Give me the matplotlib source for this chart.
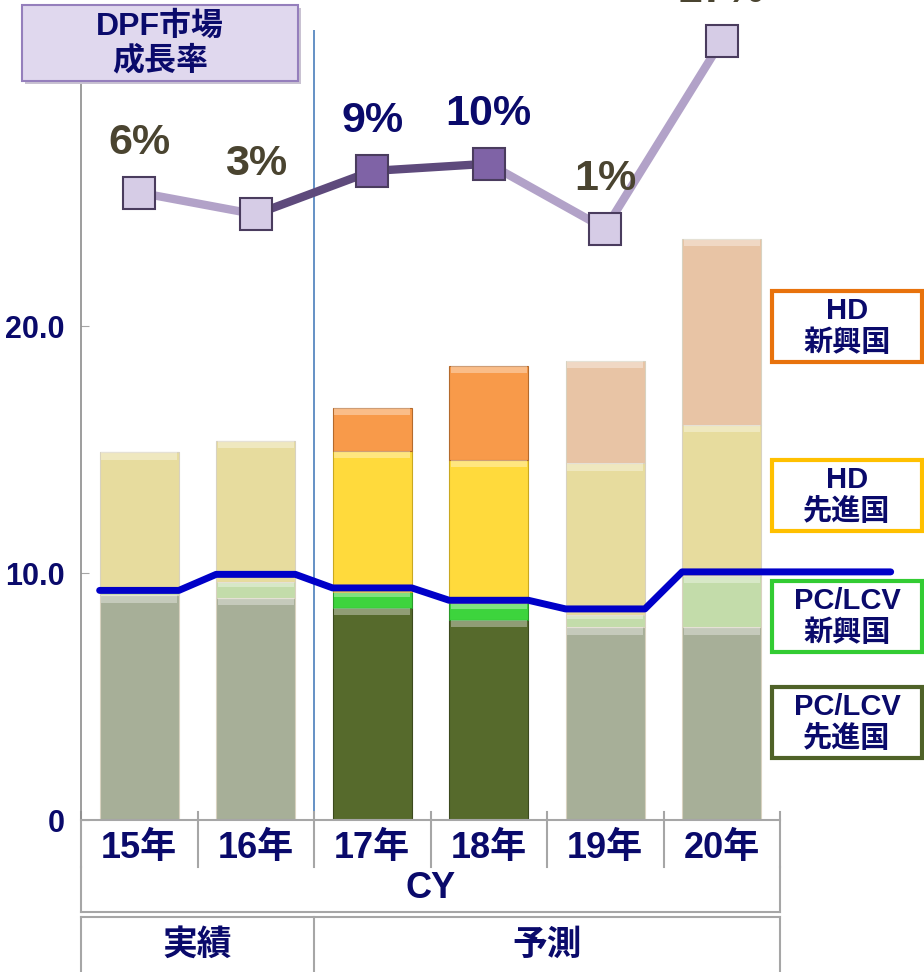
import matplotlib
matplotlib.use("Agg")
import matplotlib.pyplot as plt
import numpy as np
from matplotlib.patches import Rectangle
from matplotlib.lines import Line2D
from matplotlib.transforms import blended_transform_factory

plt.rcParams["font.family"] = ["Liberation Sans", "Noto Sans CJK JP"]
plt.rcParams["font.weight"] = "bold"

# data
years = ["15年", "16年", "17年", "18年", "19年", "20年"]
pc_adv = [9.1, 9.0, 8.6, 8.1, 7.8, 7.8]      # PC/LCV 先進国
pc_emg = [0.2, 0.65, 0.65, 0.7, 0.5, 2.1]    # PC/LCV 新興国
hd_adv = [5.6, 5.7, 5.7, 5.8, 6.15, 6.1]     # HD 先進国
hd_emg = [0.0, 0.0, 1.75, 3.8, 4.15, 7.55]   # HD 新興国
blue_line = [9.3, 9.95, 9.4, 8.9, 8.55, 10.05]
growth = [6, 3, 9, 10, 1, 27]
growth_labels = ["6%", "3%", "9%", "10%", "1%", "27%"]
highlight = [False, False, True, True, False, False]

W, H = 924, 972
NAVY = "#0a0a6b"
GREY = "#a6a6a6"


def fx(px):
    return px / W


def fy(py):
    return 1 - py / H


fig = plt.figure(figsize=(W / 100, H / 100), dpi=100)
ax = fig.add_axes([fx(81), fy(820), 699 / W, 790 / H])

x = np.arange(len(years))
bw = 0.68

strong = {"pc_adv": "#566a2c", "pc_emg": "#3dd43d", "hd_adv": "#ffda3c", "hd_emg": "#f89a4a"}
faded = {"pc_adv": "#a7af98", "pc_emg": "#c3dcaa", "hd_adv": "#e7dc9e", "hd_emg": "#e8c4a5"}
edge_strong = {"pc_adv": "#3c4a1e", "pc_emg": "#2a9a2a", "hd_adv": "#c9a820", "hd_emg": "#b46a2c"}

bottom = np.zeros(len(years))
for key, vals in [("pc_adv", pc_adv), ("pc_emg", pc_emg), ("hd_adv", hd_adv), ("hd_emg", hd_emg)]:
    vals = np.array(vals)
    cols = [strong[key] if h else faded[key] for h in highlight]
    ecs = [edge_strong[key] if h else "#d8d2c0" for h in highlight]
    ax.bar(x, vals, bw, bottom=bottom, color=cols, edgecolor=ecs, linewidth=0.8, zorder=2)
    # light bevel strip at the top of every segment
    hl = np.minimum(0.3, vals * 0.35)
    ax.bar(x, hl, bw * 0.96, bottom=bottom + vals - hl, color="white", alpha=0.35,
           linewidth=0, zorder=2.1)
    bottom += vals

# blue line: flat over each bar, sloped between bars, last one runs past the axis
lx, ly = [], []
for i, v in enumerate(blue_line):
    right = i + bw / 2 if i < len(years) - 1 else i + 1.45
    lx += [i - bw / 2, right]
    ly += [v, v]
ax.plot(lx, ly, color="#0000c8", lw=5, solid_joinstyle="round", solid_capstyle="round",
        zorder=3, clip_on=False)

ax.axvline(1.5, color="#4a7ebb", lw=1.2, zorder=1.5)

ax.set_xlim(-0.5, 5.5)
ax.set_ylim(0, 32)
ax.set_yticks([0, 10, 20], ["0", "10.0", "20.0"])
ax.set_xticks(x, years)
ax.tick_params(axis="y", direction="in", length=6, color=GREY, pad=12, labelsize=22,
               labelcolor=NAVY)
ax.tick_params(axis="x", length=0, pad=8, labelsize=26, labelcolor=NAVY)
for s in ["top", "right"]:
    ax.spines[s].set_visible(False)
ax.spines["left"].set_color("#8c8c8c")
ax.spines["bottom"].set_color(GREY)
ax.spines["left"].set_linewidth(1.2)
ax.spines["bottom"].set_linewidth(1.5)

# category table below the axis
tb = blended_transform_factory(ax.transData, fig.transFigure)
for b in np.arange(-0.5, 6, 1.0):
    ax.add_line(Line2D([b, b], [fy(812), fy(867)], transform=tb, color=GREY, lw=1.5, clip_on=False))
for b in [-0.5, 5.5]:
    ax.add_line(Line2D([b, b], [fy(867), fy(912)], transform=tb, color=GREY, lw=1.5, clip_on=False))
ax.add_line(Line2D([-0.5, 5.5], [fy(912), fy(912)], transform=tb, color=GREY, lw=1.5, clip_on=False))
ax.add_line(Line2D([-0.5, 5.5], [fy(917), fy(917)], transform=tb, color=GREY, lw=1.5, clip_on=False))
for b in [-0.5, 1.5, 5.5]:
    ax.add_line(Line2D([b, b], [fy(917), fy(975)], transform=tb, color=GREY, lw=1.5, clip_on=False))
ax.text(2.5, fy(888), "CY", transform=tb, ha="center", va="center", fontsize=26, color=NAVY)
ax.text(0.5, fy(945), "実績", transform=tb, ha="center", va="center", fontsize=25, color=NAVY)
ax.text(3.5, fy(945), "予測", transform=tb, ha="center", va="center", fontsize=25, color=NAVY)

# growth rate line on its own scale
ax2 = ax.twinx()
ax2.set_ylim(-80.8, 28.5)
ax2.axis("off")
light, dark = "#b2a2c8", "#5e4a7c"
for i in range(len(years) - 1):
    c = dark if (highlight[i] or highlight[i + 1]) else light
    if i == 3:
        c = light
    ax2.plot(x[i:i + 2], growth[i:i + 2], color=c, lw=6, zorder=4, solid_capstyle="butt")
for i, g in enumerate(growth):
    ax2.plot(x[i], g, marker="s", ms=23, mfc="#7f63a6" if highlight[i] else "#d6cce6",
             mec="#4a3c5e", mew=1.5, zorder=5, clip_on=False)
    ax2.annotate(growth_labels[i], (x[i], g), xytext=(0, 36), textcoords="offset points",
                 ha="center", va="center", fontsize=31,
                 color=NAVY if highlight[i] else "#4a4430", zorder=6, annotation_clip=False)

# title box
fig.add_artist(Rectangle((fx(25), fy(84)), 276 / W, 76 / H, transform=fig.transFigure,
                         facecolor="#c9c2d2", edgecolor="none", zorder=9))
fig.add_artist(Rectangle((fx(22), fy(81)), 276 / W, 76 / H, transform=fig.transFigure,
                         facecolor="#e0d8ee", edgecolor="#957fbc", lw=1.5, zorder=10))
fig.text(fx(160), fy(44), "DPF市場\n成長率", ha="center", va="center", fontsize=23,
         color=NAVY, linespacing=1.15, zorder=11)

# legend boxes
legend = [("HD\n新興国", "#e8720c", 291), ("HD\n先進国", "#ffc000", 460),
          ("PC/LCV\n新興国", "#33cc33", 581), ("PC/LCV\n先進国", "#4f6228", 687)]
for text, ec, top in legend:
    fig.add_artist(Rectangle((fx(772), fy(top + 71)), 150 / W, 71 / H, transform=fig.transFigure,
                             facecolor="white", edgecolor=ec, lw=3, zorder=10))
    fig.text(fx(847), fy(top + 36), text, ha="center", va="center", fontsize=21, color=NAVY,
             linespacing=1.2, zorder=11)

fig.savefig("out.png", dpi=100)
